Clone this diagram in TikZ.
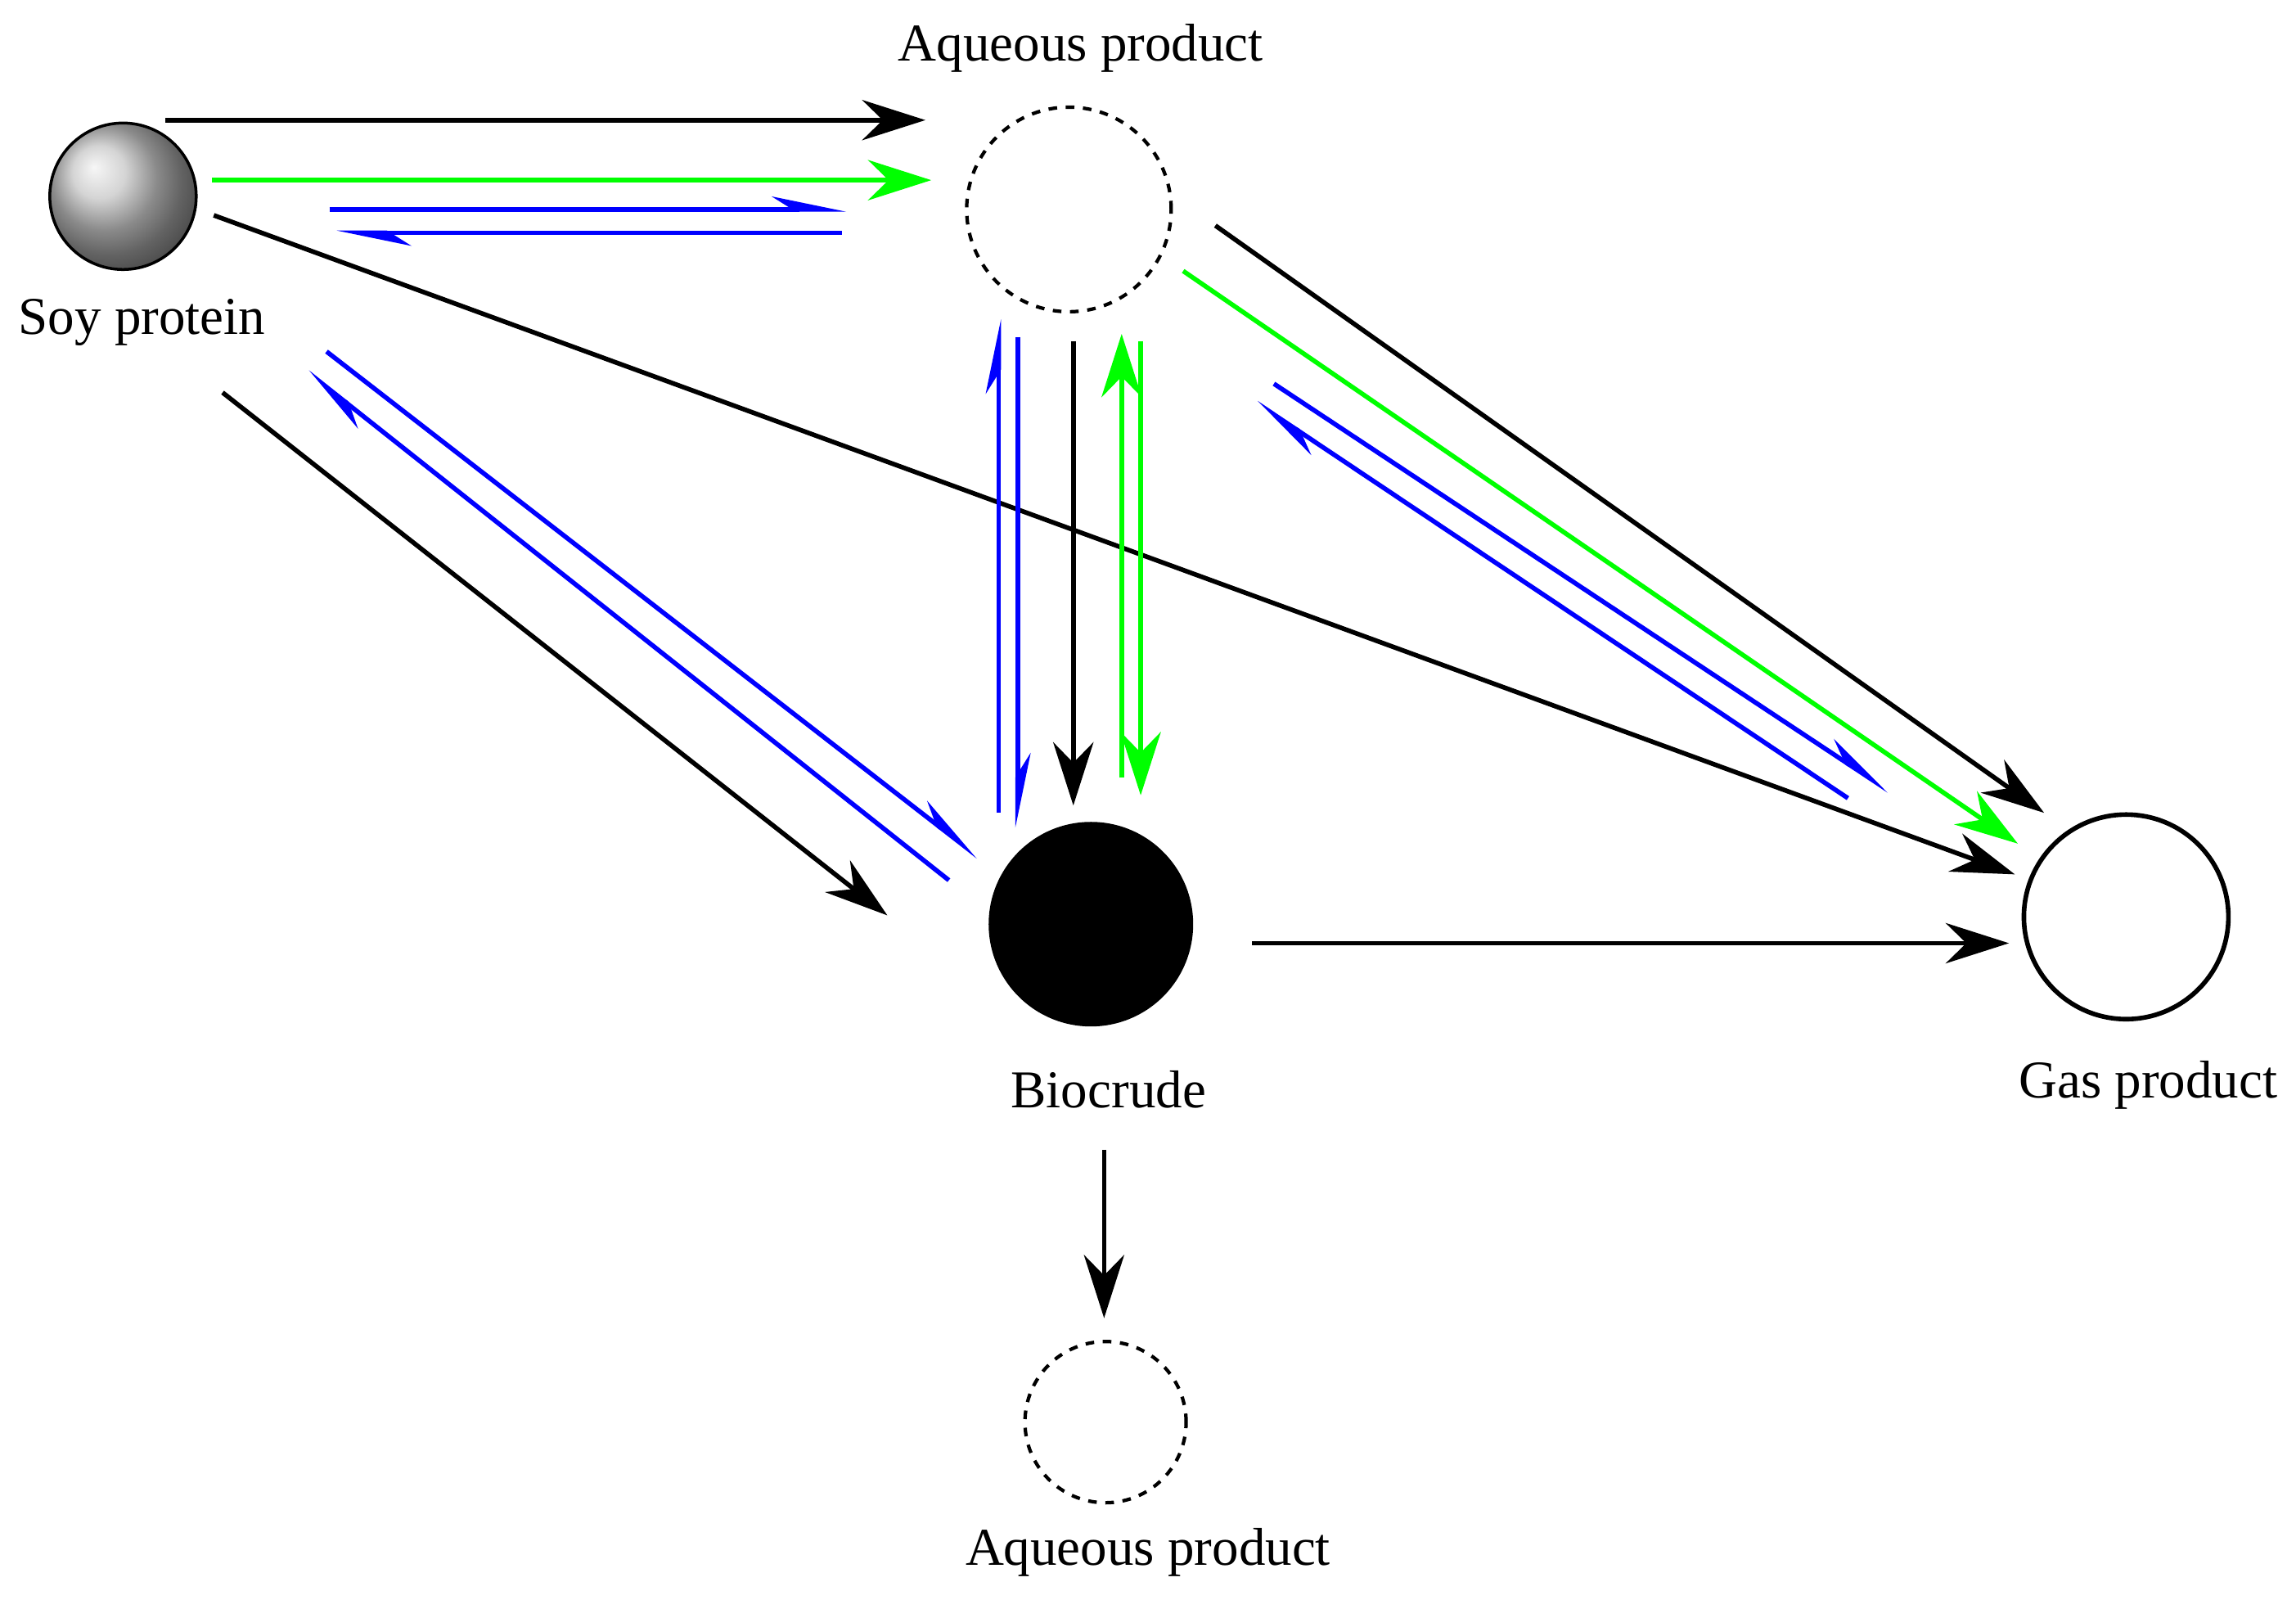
\documentclass[tikz,border=0pt]{standalone}
\usepackage{fontspec}
\setmainfont{Liberation Serif}
\usetikzlibrary{arrows.meta}
\begin{document}
\begin{tikzpicture}[x=0.0179cm,y=-0.0179cm,
 lbl/.style={font=\fontsize{18.5}{22}\selectfont},
 arr/.style={line width=1.6pt,-{Stealth[length=22pt,width=14pt]}},
 harp/.style={line width=1.6pt,-{Stealth[harpoon,length=22pt,width=9pt]}},
 blk/.style={arr,black}, grn/.style={arr,green}, blu/.style={harp,blue}]
\useasboundingbox (0,0) rectangle (1568,1092);
\node[circle,inner sep=0,shade,ball color=gray!45,draw=black,line width=1pt,minimum size=1.79cm] (soy) at (84,134) {};
\node[circle,draw,dashed,line width=1.2pt,minimum size=2.5cm] (aq1) at (730,143) {};
\node[circle,fill=black,minimum size=2.5cm] (bio) at (745,631) {};
\node[circle,draw,line width=1.6pt,minimum size=2.5cm] (gas) at (1452,626) {};
\node[circle,draw,dashed,line width=1.2pt,minimum size=1.97cm] (aq2) at (755,971) {};
\node[lbl] (l1) at (97,220) {Soy protein};
\node[lbl] (l2) at (738,33) {Aqueous product};
\node[lbl] (l3) at (757,744) {Biocrude};
\node[lbl] (l4) at (1467,741) {Gas product};
\node[lbl] (l5) at (784,1060) {Aqueous product};
\draw[blk] (113,82) -- (632,82);
\draw[grn] (145,123) -- (636,123);
\draw[blu] (225,143) -- (578,143);
\draw[blu] (575,159) -- (230,159);
\draw[blk] (146,147) -- (1376,597);
\draw[blk] (152,268) -- (606,625);
\draw[blu] (223,240) -- (668,585);
\draw[blu] (648,601) -- (210,254);
\draw[blu] (682,555) -- (682,218);
\draw[blu] (695,230) -- (695,565);
\draw[blk] (733,233) -- (733,550);
\draw[grn] (766,531) -- (766,228);
\draw[grn] (779,233) -- (779,543);
\draw[blk] (830,154) -- (1396,555);
\draw[grn] (808,185) -- (1378,576);
\draw[blu] (870,262) -- (1290,540);
\draw[blu] (1262,545) -- (858,275);
\draw[blk] (855,644) -- (1372,644);
\draw[blk] (754,785) -- (754,900);
\end{tikzpicture}
\end{document}
